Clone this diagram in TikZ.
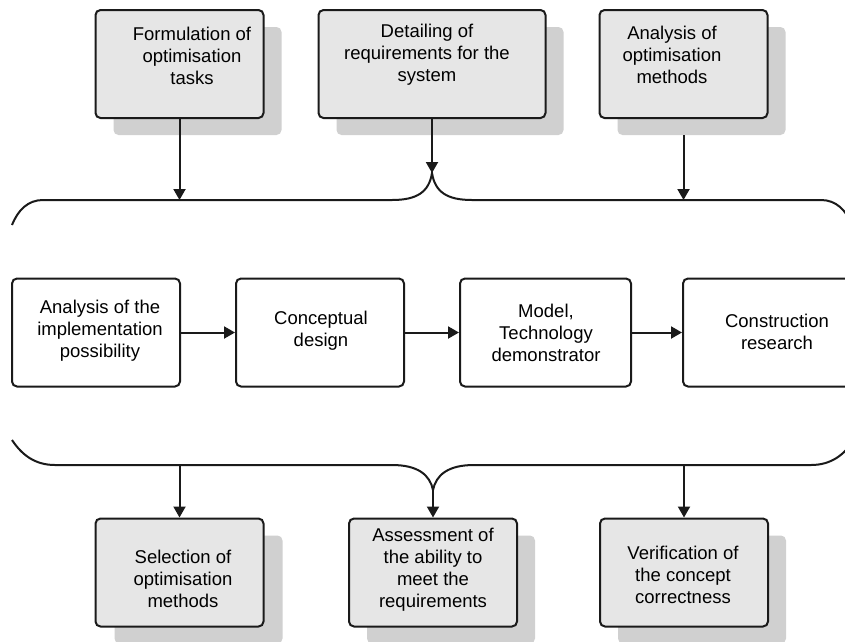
\documentclass[tikz,border=0pt]{standalone}
\usepackage{fontspec}
\setmainfont{Liberation Sans}
\usetikzlibrary{arrows.meta}
\definecolor{boxfill}{HTML}{E6E6E6}
\definecolor{shadowgray}{HTML}{D0D0D0}
\definecolor{linegray}{HTML}{1A1A1A}
\begin{document}
\begin{tikzpicture}[x=1pt,y=-1pt,
  box/.style={draw=linegray, line width=2pt, rounded corners=5pt, minimum width=168pt, minimum height=108pt, inner sep=0pt},
  graybox/.style={box, fill=boxfill},
  whitebox/.style={box, fill=white},
  shadowbox/.style={fill=shadowgray, rounded corners=5pt, minimum width=168pt, minimum height=108pt, inner sep=0pt},
  txt/.style={align=center, font=\fontsize{18.5}{22}\selectfont, inner sep=0pt},
  conn/.style={line width=2pt, draw=linegray, -{Triangle[width=12pt,length=11pt]}},
  bracepath/.style={line width=2pt, draw=linegray}]
\clip (0,0) rectangle (845,641);
\fill[white] (0,0) rectangle (845,641);

% shadows
\node[shadowbox] (s1) at (197.5,81) {};
\node[shadowbox, minimum width=227pt] (s2) at (450,81) {};
\node[shadowbox] (s3) at (701.5,81) {};
\node[shadowbox] (s4) at (198.5,589.5) {};
\node[shadowbox] (s5) at (451,589.5) {};
\node[shadowbox] (s6) at (702,589.5) {};

% top boxes
\node[graybox] (b1) at (179.5,64) {};
\node[graybox, minimum width=227pt] (b2) at (432,64) {};
\node[graybox] (b3) at (683.5,64) {};
\node[txt] (t1) at (192,56) {Formulation of\\optimisation\\tasks};
\node[txt] (t2) at (427,55) {Detailing of\\requirements for the\\system};
\node[txt] (t3) at (672,55) {Analysis of\\optimisation\\methods};

% middle boxes
\node[whitebox] (ba) at (96,332.5) {};
\node[whitebox] (bb) at (320,332.5) {};
\node[whitebox, minimum width=171pt] (bc) at (545.5,332.5) {};
\node[whitebox] (bd) at (767,332.5) {};
\node[txt] (ta) at (100,331) {Analysis of the\\implementation\\possibility};
\node[txt] (tb) at (321,331) {Conceptual\\design};
\node[txt] (tc) at (546,333) {Model,\\Technology\\demonstrator};
\node[txt] (td) at (777,332) {Construction\\research};

% bottom boxes
\node[graybox] (be) at (179.5,572.5) {};
\node[graybox] (bf) at (433,572.5) {};
\node[graybox] (bg) at (684,572.5) {};
\node[txt] (te) at (183,579) {Selection of\\optimisation\\methods};
\node[txt] (tf) at (433,570) {Assessment of\\the ability to\\meet the\\requirements};
\node[txt] (tg) at (683,575) {Verification of\\the concept\\correctness};

% braces
\coordinate (tcusp) at (432,173);
\coordinate (tl) at (179.5,200);
\coordinate (tr) at (683.5,200);
\draw[bracepath] (12,225) .. controls (18,210) and (28,200) .. (43,200) -- (392,200)
  .. controls (417,200) and (429,192) .. (tcusp)
  .. controls (435,192) and (447,200) .. (472,200) -- (821,200)
  .. controls (836,200) and (846,210) .. (852,225);

\coordinate (bcusp) at (433,490);
\coordinate (bl) at (179.5,465);
\coordinate (br) at (684,465);
\draw[bracepath] (12,440) .. controls (22,455) and (35,465) .. (55,465) -- (392,465)
  .. controls (418,465) and (430,475) .. (bcusp)
  .. controls (436,475) and (448,465) .. (474,465) -- (811,465)
  .. controls (831,465) and (844,455) .. (854,440);

% connectors
\draw[conn] (b1.south) -- (tl);
\draw[conn] (b2.south) -- (tcusp);
\draw[conn] (b3.south |- s3.south) -- (tr);
\draw[conn] (ba) -- (bb);
\draw[conn] (bb) -- (bc);
\draw[conn] (bc) -- (bd);
\draw[conn] (bl) -- (be.north);
\draw[conn] (bcusp) -- (bf.north);
\draw[conn] (br) -- (bg.north);
\end{tikzpicture}
\end{document}
